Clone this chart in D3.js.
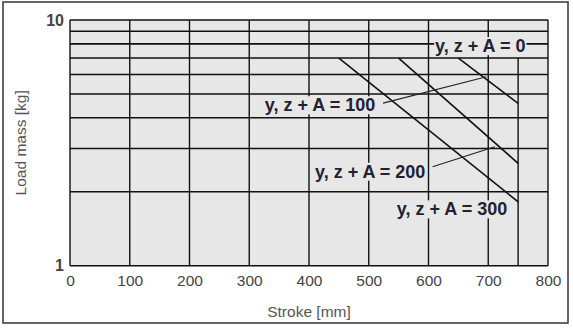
<!DOCTYPE html>
<html>
<head>
<meta charset="utf-8">
<script src="https://cdn.jsdelivr.net/npm/d3@7"></script>
<style>
body { margin: 0; background: #fff; }
svg { display: block; font-family: "Liberation Sans", Arial, sans-serif; }
</style>
</head>
<body>
<div id="chart"></div>
<script>
// stroke [mm] on x, load mass [kg] on a log y axis
const strokeTicks = [0, 100, 200, 300, 400, 500, 600, 700, 800];
const massGrid = [1, 2, 3, 4, 5, 6, 7, 8, 9, 10];
const massLabels = [1, 10];
const extraStroke = 750;      // short vertical line, 1 kg up to 7 kg
const extraStrokeTop = 7;

const seriesNames = ["y, z + A = 0", "y, z + A = 100", "y, z + A = 200", "y, z + A = 300"];
const seriesStroke = [[0, 800], [650, 750], [550, 750], [450, 750]];
const seriesMass = [[8, 8], [7, 4.58], [7, 2.61], [7, 1.82]];

// label anchors (start of text, vertical middle) in data units
const labelStroke = [611, 326, 410, 547];
const labelMass = [7.85, 4.51, 2.42, 1.70];

// leader lines from label to curve
const leaderStroke = [null, [524, 697], [607, 711], null];
const leaderMass = [null, [4.59, 5.88], [2.53, 3.05], null];

const W = 573, H = 329;
const marginLeft = 70, marginTop = 20, marginRight = 25, marginBottom = 63.3;
const plotBg = "#e7e7e7";

const svg = d3.select("#chart").append("svg")
    .attr("width", W)
    .attr("height", H)
    .attr("viewBox", [0, 0, W, H]);

// outer frame
svg.append("rect")
    .attr("x", 3).attr("y", 2)
    .attr("width", 565).attr("height", 321)
    .attr("fill", "none")
    .attr("stroke", "#333")
    .attr("stroke-width", 1.5);

const x = d3.scaleLinear().domain([0, 800]).range([marginLeft, W - marginRight]);
const y = d3.scaleLog().domain([1, 10]).range([H - marginBottom, marginTop]);

svg.append("rect")
    .attr("x", x(0)).attr("y", y(10))
    .attr("width", x(800) - x(0)).attr("height", y(1) - y(10))
    .attr("fill", plotBg);

// grid
const grid = svg.append("g")
    .attr("stroke", "#111")
    .attr("stroke-width", 1.4);

grid.selectAll("line.h")
    .data(massGrid)
    .join("line")
    .attr("class", "h")
    .attr("x1", x(0)).attr("x2", x(800))
    .attr("y1", d => y(d)).attr("y2", d => y(d));

grid.selectAll("line.v")
    .data(strokeTicks)
    .join("line")
    .attr("class", "v")
    .attr("x1", d => x(d)).attr("x2", d => x(d))
    .attr("y1", y(1)).attr("y2", y(10));

grid.append("line")
    .attr("x1", x(extraStroke)).attr("x2", x(extraStroke))
    .attr("y1", y(1)).attr("y2", y(extraStrokeTop));

// curves
const line = d3.line().x(d => x(d[0])).y(d => y(d[1]));
svg.append("g")
    .attr("fill", "none")
    .attr("stroke", "#111")
    .attr("stroke-width", 1.6)
    .selectAll("path")
    .data(seriesNames.map((n, i) => seriesStroke[i].map((s, j) => [s, seriesMass[i][j]])))
    .join("path")
    .attr("d", line);

// leader lines
svg.append("g")
    .attr("fill", "none")
    .attr("stroke", "#222")
    .attr("stroke-width", 1.1)
    .selectAll("path")
    .data(leaderStroke.map((s, i) => s ? s.map((v, j) => [v, leaderMass[i][j]]) : null).filter(d => d))
    .join("path")
    .attr("d", line);

// axes
const xAxis = svg.append("g")
    .attr("transform", `translate(0,${y(1)})`)
    .call(d3.axisBottom(x).tickValues(strokeTicks).tickSize(0).tickPadding(9));
xAxis.select(".domain").remove();
xAxis.selectAll("text")
    .attr("font-size", 15.5)
    .attr("fill", "#444");

const yAxis = svg.append("g")
    .attr("transform", `translate(${x(0)},0)`)
    .call(d3.axisLeft(y).tickValues(massLabels).tickFormat(d3.format("d")).tickSize(0).tickPadding(6));
yAxis.select(".domain").remove();
yAxis.selectAll("text")
    .attr("font-size", 16)
    .attr("font-weight", "bold")
    .attr("fill", "#444");

svg.append("text")
    .attr("x", (x(0) + x(800)) / 2)
    .attr("y", 317)
    .attr("text-anchor", "middle")
    .attr("font-size", 15.5)
    .attr("fill", "#555")
    .text("Stroke [mm]");

svg.append("text")
    .attr("transform", `translate(25.5,${(y(1) + y(10)) / 2}) rotate(-90)`)
    .attr("text-anchor", "middle")
    .attr("font-size", 15.5)
    .attr("fill", "#555")
    .text("Load mass [kg]");

// curve labels with a background patch over the grid
const labels = svg.append("g");
seriesNames.forEach((name, i) => {
    const g = labels.append("g");
    const t = g.append("text")
        .attr("x", x(labelStroke[i]))
        .attr("y", y(labelMass[i]))
        .attr("dy", "0.35em")
        .attr("font-size", 18)
        .attr("font-weight", "bold")
        .attr("fill", "#1f2233")
        .text(name);
    const b = t.node().getBBox();
    g.insert("rect", "text")
        .attr("x", b.x - 1)
        .attr("y", b.y + 1)
        .attr("width", b.width + 2)
        .attr("height", b.height - 2)
        .attr("fill", plotBg);
});
</script>
</body>
</html>
